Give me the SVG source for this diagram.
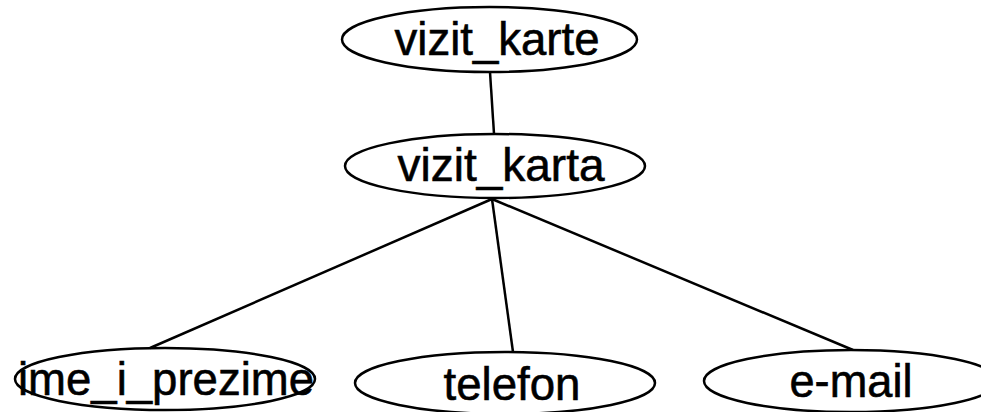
<svg xmlns="http://www.w3.org/2000/svg" width="981" height="412" viewBox="0 0 981 412">
<style>
.n ellipse{fill:#fff;stroke:#000;stroke-width:2.5}
.n text{font-family:"Liberation Sans",Arial,sans-serif;font-size:47px;fill:#000;stroke:#000;stroke-width:0.6;text-anchor:middle}
.e line{stroke:#000;stroke-width:2.5}
</style>
<rect width="981" height="412" fill="#fff"/>
<g id="edges" class="e">
<line x1="490" y1="72" x2="494" y2="134"/>
<line x1="492" y1="199" x2="150" y2="348"/>
<line x1="492" y1="199" x2="513" y2="352"/>
<line x1="492" y1="199" x2="853" y2="350"/>
</g>
<g id="vizit_karte" class="n"><ellipse cx="489.5" cy="39.5" rx="147.5" ry="32.5"/><text x="497" y="55" textLength="205" lengthAdjust="spacingAndGlyphs">vizit_karte</text></g>
<g id="vizit_karta" class="n"><ellipse cx="495" cy="166" rx="150" ry="32"/><text x="501" y="181" textLength="207" lengthAdjust="spacingAndGlyphs">vizit_karta</text></g>
<g id="ime_i_prezime" class="n"><ellipse cx="165" cy="379" rx="150" ry="31" style="fill:none"/><text x="166" y="395" textLength="296" lengthAdjust="spacingAndGlyphs">ime_i_prezime</text></g>
<g id="telefon" class="n"><ellipse cx="505" cy="383" rx="150" ry="31"/><text x="512" y="400" textLength="137" lengthAdjust="spacingAndGlyphs">telefon</text></g>
<g id="e-mail" class="n"><ellipse cx="851" cy="381" rx="147" ry="31"/><text x="851" y="397" textLength="123" lengthAdjust="spacingAndGlyphs">e-mail</text></g>
</svg>
